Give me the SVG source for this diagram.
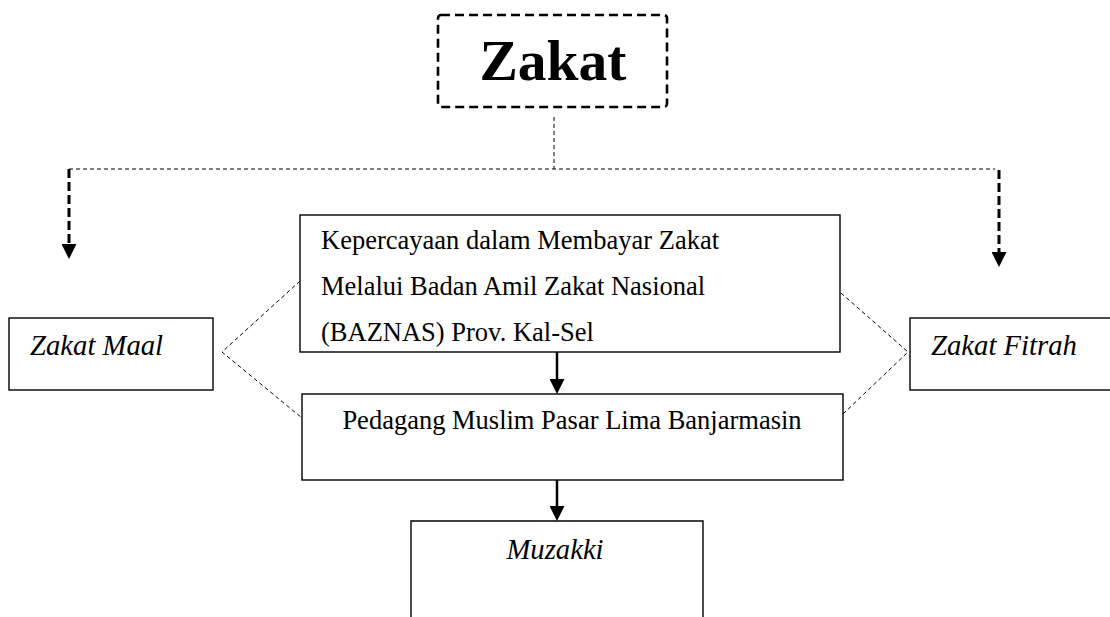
<svg xmlns="http://www.w3.org/2000/svg" width="1110" height="617" viewBox="0 0 1110 617">
<style>
  .box { fill: #fff; stroke: #000; stroke-width: 1.4; }
  .t { font-family: "Liberation Serif", "Times New Roman", serif; fill: #000; }
  .reg { font-size: 26.5px; }
  .it { font-size: 28.7px; font-style: italic; }
  .thin { fill: none; stroke: #000; stroke-width: 1; stroke-dasharray: 4 3; }
  .thick { fill: none; stroke: #000; stroke-width: 3; stroke-dasharray: 9 4; }
  .solid { fill: none; stroke: #000; stroke-width: 2.5; }
</style>
<defs>
  <marker id="ah" viewBox="0 0 15 15" refX="11" refY="7.5" markerWidth="15" markerHeight="15" markerUnits="userSpaceOnUse" orient="auto">
    <path d="M0,0 L15,7.5 L0,15 z" fill="#000"/>
  </marker>
</defs>
<rect width="1110" height="617" fill="#fff"/>

<g id="connectors">
  <path class="thin" d="M554,117 V169"/>
  <path class="thin" d="M69,169 H995"/>
  <path class="thick" d="M69,169 V255" marker-end="url(#ah)"/>
  <path class="thick" d="M999,170 V263" marker-end="url(#ah)"/>
  <path class="thin" d="M300,281 L222,352 L302,418"/>
  <path class="thin" d="M841,293 L908,352 L843,414"/>
  <path class="solid" d="M557,352 V390" marker-end="url(#ah)"/>
  <path class="solid" d="M557,480 V517" marker-end="url(#ah)"/>
</g>

<g id="node-zakat">
  <rect x="438" y="15" width="229" height="92" rx="3" fill="#fff" stroke="#000" stroke-width="2.6" stroke-dasharray="9 5"/>
  <text class="t" x="553" y="80" font-size="57.5" font-weight="bold" text-anchor="middle">Zakat</text>
</g>

<g id="node-maal">
  <rect class="box" x="9" y="318" width="204" height="72"/>
  <text class="t it" x="30" y="355">Zakat Maal</text>
</g>

<g id="node-fitrah">
  <rect class="box" x="910" y="318" width="210" height="72"/>
  <text class="t it" x="931" y="355">Zakat Fitrah</text>
</g>

<g id="node-kepercayaan">
  <rect class="box" x="300" y="215" width="540" height="137"/>
  <text class="t reg" x="321" y="249">Kepercayaan dalam Membayar Zakat</text>
  <text class="t reg" x="321" y="295">Melalui Badan Amil Zakat Nasional</text>
  <text class="t reg" x="321" y="341">(BAZNAS) Prov. Kal-Sel</text>
</g>

<g id="node-pedagang">
  <rect class="box" x="302" y="394" width="541" height="86"/>
  <text class="t reg" x="572" y="429" text-anchor="middle">Pedagang Muslim Pasar Lima Banjarmasin</text>
</g>

<g id="node-muzakki">
  <path class="box" d="M411,630 V521 H703 V630"/>
  <text class="t it" x="555" y="559" text-anchor="middle">Muzakki</text>
</g>
</svg>
